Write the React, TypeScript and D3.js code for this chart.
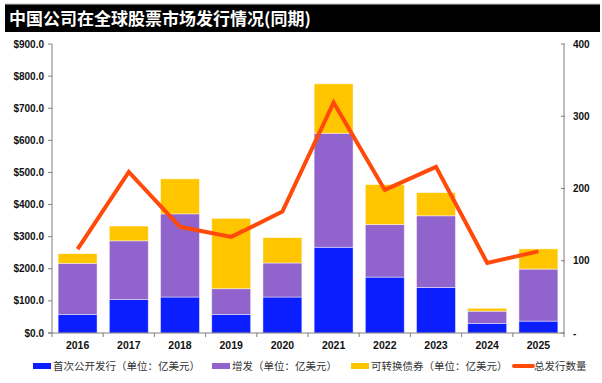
import React from "react";
import * as d3 from "d3";

const years = ["2016", "2017", "2018", "2019", "2020", "2021", "2022", "2023", "2024", "2025"];
const ipo = [58, 104, 112, 58, 112, 267, 174, 142, 30, 37];
const followOn = [159, 183, 259, 80, 106, 355, 164, 223, 38, 162];
const convertible = [30, 46, 109, 219, 79, 154, 124, 72, 9, 63];
const totalCount = [116, 223, 147, 133, 168, 319, 198, 230, 97, 113];
const leftTicks = [0, 100, 200, 300, 400, 500, 600, 700, 800, 900];
const rightTicks = [0, 100, 200, 300, 400];

const seriesNames = ["首次公开发行（单位：亿美元）", "增发（单位：亿美元）", "可转换债券（单位：亿美元）", "总发行数量"];
const colors = ["#0A1EFF", "#9063CD", "#FFC600", "#FF4A0A"];

export default function App() {
  const W = 602, H = 383;
  const x0 = 52, x1 = 564, yTop = 44, yBot = 333;
  const x = d3.scaleBand<string>().domain(years).range([x0, x1]).paddingInner(0.24).paddingOuter(0.12);
  const xb = d3.scaleBand<string>().domain(years).range([x0, x1]);
  const yL = d3.scaleLinear().domain([0, 900]).range([yBot, yTop]);
  const yR = d3.scaleLinear().domain([0, 400]).range([yBot, yTop]);

  const rows = years.map((y, i) => ({ year: y, ipo: ipo[i], followOn: followOn[i], convertible: convertible[i] }));
  const stack = d3.stack<any>().keys(["ipo", "followOn", "convertible"])(rows);

  const line = d3.line<number>()
    .x((_, i) => (x(years[i]) as number) + x.bandwidth() / 2)
    .y((d) => yR(d));

  const axisColor = "#7f7f7f";
  const labelFont = "'Liberation Sans', Arial, sans-serif";
  const cjk = "'Noto Sans CJK SC', sans-serif";

  const legendItems = [
    { x: 33, label: seriesNames[0], color: colors[0], line: false },
    { x: 212, label: seriesNames[1], color: colors[1], line: false },
    { x: 351, label: seriesNames[2], color: colors[2], line: false },
    { x: 514, label: seriesNames[3], color: colors[3], line: true },
  ];

  return (
    <svg width={W} height={H} style={{ position: "absolute", left: 0, top: 0, background: "#fff" }}>
      <rect x={0} y={0} width={W} height={H} fill="#fff" />
      <line x1={5} x2={600} y1={4} y2={4} stroke="#bbb" strokeWidth={1} />
      <rect x={5} y={4.5} width={595} height={27.5} fill="#000" />
      <text x={9} y={25} fill="#fff" fontFamily={cjk} fontWeight={700} fontSize={17}>
        中国公司在全球股票市场发行情况(同期)
      </text>

      {stack.map((s, si) => (
        <g key={si}>
          {s.map((d, i) => (
            <rect
              key={i}
              x={x(years[i])}
              y={yL(d[1])}
              width={x.bandwidth()}
              height={yL(d[0]) - yL(d[1])}
              fill={colors[si]}
              stroke="#ffffff"
              strokeOpacity={0.55}
              strokeWidth={0.8}
            />
          ))}
        </g>
      ))}

      <path d={line(totalCount) || ""} fill="none" stroke={colors[3]} strokeWidth={4} strokeLinejoin="miter" />

      {/* left axis */}
      <line x1={x0} x2={x0} y1={yTop} y2={yBot} stroke={axisColor} strokeWidth={1} />
      {leftTicks.map((t) => (
        <g key={t}>
          <line x1={x0 - 4} x2={x0} y1={yL(t)} y2={yL(t)} stroke={axisColor} />
          <text x={44} y={yL(t)} dy="0.35em" textAnchor="end" fontFamily={labelFont} fontWeight={700} fontSize={10} fill="#111">
            {"$" + t.toFixed(1)}
          </text>
        </g>
      ))}

      {/* right axis */}
      <line x1={x1} x2={x1} y1={yTop} y2={yBot} stroke={axisColor} strokeWidth={1} />
      {rightTicks.map((t) => (
        <g key={t}>
          <line x1={x1 - 3} x2={x1 + 1} y1={yR(t)} y2={yR(t)} stroke={axisColor} />
          <text x={573} y={yR(t)} dy="0.35em" textAnchor="start" fontFamily={labelFont} fontWeight={700} fontSize={10} fill="#111">
            {t === 0 ? "-" : String(t)}
          </text>
        </g>
      ))}

      {/* x axis */}
      <line x1={x0 - 4} x2={x1} y1={yBot} y2={yBot} stroke={axisColor} strokeWidth={1} />
      {years.map((yr, i) => (
        <g key={yr}>
          <line x1={(xb(yr) as number) + xb.bandwidth()} x2={(xb(yr) as number) + xb.bandwidth()} y1={yBot} y2={yBot + 4} stroke={axisColor} />
          <text x={(x(yr) as number) + x.bandwidth() / 2} y={345} dy="0.35em" textAnchor="middle" fontFamily={labelFont} fontWeight={700} fontSize={10.5} fill="#111">
            {yr}
          </text>
        </g>
      ))}
      <line x1={x0} x2={x0} y1={yBot} y2={yBot + 4} stroke={axisColor} />

      {/* legend */}
      {legendItems.map((it, i) => (
        <g key={i}>
          {it.line ? (
            <line x1={it.x} x2={it.x + 19} y1={366} y2={366} stroke={it.color} strokeWidth={4} strokeLinecap="round" />
          ) : (
            <rect x={it.x} y={363} width={18} height={6} fill={it.color} />
          )}
          <text x={it.x + 20} y={366} dy="0.35em" fontFamily={cjk} fontSize={10.5} fill="#333">
            {it.label}
          </text>
        </g>
      ))}
    </svg>
  );
}
